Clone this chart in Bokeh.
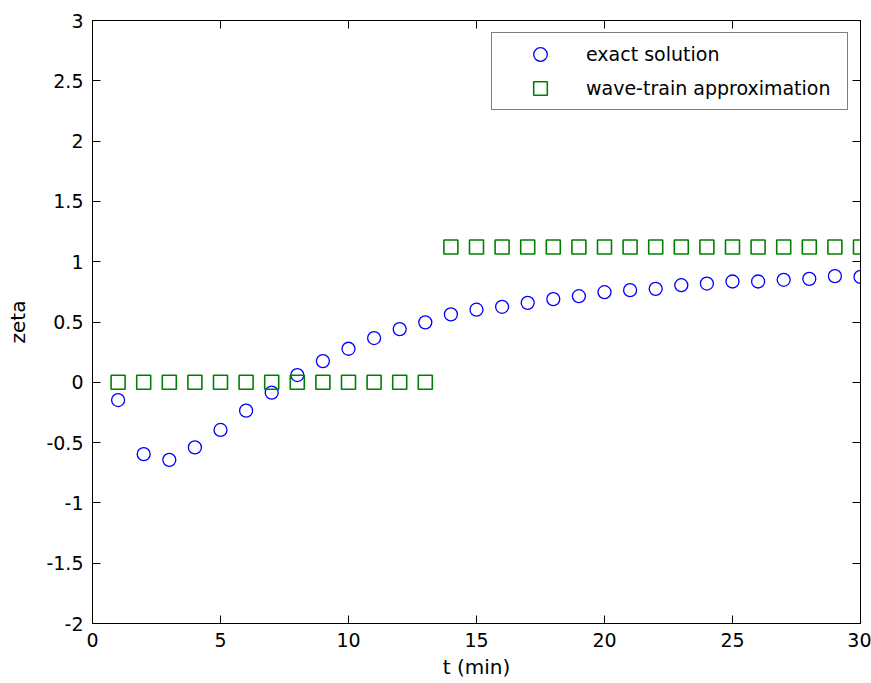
from bokeh.plotting import figure
from bokeh.models import Range1d, LinearAxis, FixedTicker, Legend, LegendItem, Label, ColumnDataSource
from bokeh.embed import file_html
from bokeh.resources import INLINE

title_text = "x = 50 km"
t_exact = list(range(1, 31))
zeta_exact = [-0.147, -0.596, -0.643, -0.54, -0.395, -0.235, -0.086, 0.06, 0.176, 0.278,
              0.367, 0.441, 0.497, 0.563, 0.602, 0.626, 0.659, 0.69, 0.714, 0.747,
              0.764, 0.775, 0.805, 0.819, 0.836, 0.836, 0.85, 0.858, 0.88, 0.874]
t_wave = list(range(1, 31))
zeta_wave = [0.0] * 13 + [1.122] * 17
x_ticks = [0, 5, 10, 15, 20, 25, 30]
y_ticks = [-2, -1.5, -1, -0.5, 0, 0.5, 1, 1.5, 2, 2.5, 3]


def fmt(v):
    s = ("%g" % v)
    return s.replace("\u2212", "-")


FONT = "DejaVu Sans"
FS = "19px"
FS_LABEL = "20px"

p = figure(width=871, height=683, output_backend="svg", toolbar_location=None,
           x_range=Range1d(0, 30), y_range=Range1d(-2, 3),
           min_border_left=92, min_border_right=11, min_border_top=20, min_border_bottom=60,
           x_axis_label="t (min)", y_axis_label="zeta")
p.xgrid.visible = False
p.ygrid.visible = False
p.outline_line_color = "black"
p.outline_line_width = 1
p.background_fill_color = "white"
p.border_fill_color = "white"

src_e = ColumnDataSource(dict(t=t_exact, z=zeta_exact))
src_w = ColumnDataSource(dict(t=t_wave, z=zeta_wave))
r1 = p.scatter("t", "z", source=src_e, marker="circle", size=13, fill_color=None,
               line_color="#0000FF", line_width=1.3)
r2 = p.scatter("t", "z", source=src_w, marker="square", size=14, fill_color=None,
               line_color="#008000", line_width=1.6)

for ax, ticks in ((p.xaxis[0], x_ticks), (p.yaxis[0], y_ticks)):
    ax.ticker = FixedTicker(ticks=ticks)
    ax.major_label_overrides = {t: fmt(t) for t in ticks}
    ax.major_tick_in = 8
    ax.major_tick_out = 0
    ax.minor_tick_line_color = None
    ax.axis_line_color = "black"
    ax.major_tick_line_color = "black"
    ax.major_label_text_font = FONT
    ax.major_label_text_font_size = FS
    ax.major_label_text_color = "black"
    ax.axis_label_text_font = FONT
    ax.axis_label_text_font_size = FS_LABEL
    ax.axis_label_text_font_style = "normal"
    ax.axis_label_text_color = "black"

p.yaxis[0].major_label_standoff = 9
p.yaxis[0].axis_label_standoff = 13
p.xaxis[0].major_label_standoff = 9
p.xaxis[0].axis_label_standoff = 5

for loc, ticks in (("right", y_ticks), ("above", x_ticks)):
    ax = LinearAxis(ticker=FixedTicker(ticks=ticks), major_tick_in=8, major_tick_out=0,
                    minor_tick_line_color=None,
                    major_label_overrides={t: "" for t in ticks},
                    major_label_standoff=0, axis_line_color="black",
                    major_tick_line_color="black")
    p.add_layout(ax, loc)

legend = Legend(items=[LegendItem(label="exact solution", renderers=[r1]),
                       LegendItem(label="wave-train approximation", renderers=[r2])],
                location="top_right", margin=12, padding=4, spacing=-1,
                glyph_width=88, glyph_height=34, label_height=34, label_width=257,
                label_standoff=2,
                label_text_font=FONT, label_text_font_size=FS, label_text_color="black",
                border_line_color="black", border_line_width=1,
                background_fill_color="white", background_fill_alpha=1.0)
p.add_layout(legend)

title = Label(x=15, y=3.141, text=title_text, text_align="center", text_baseline="alphabetic",
              text_font=FONT, text_font_size="19px", text_color="black")
p.add_layout(title)

open("out.html", "w").write(file_html(p, INLINE))
